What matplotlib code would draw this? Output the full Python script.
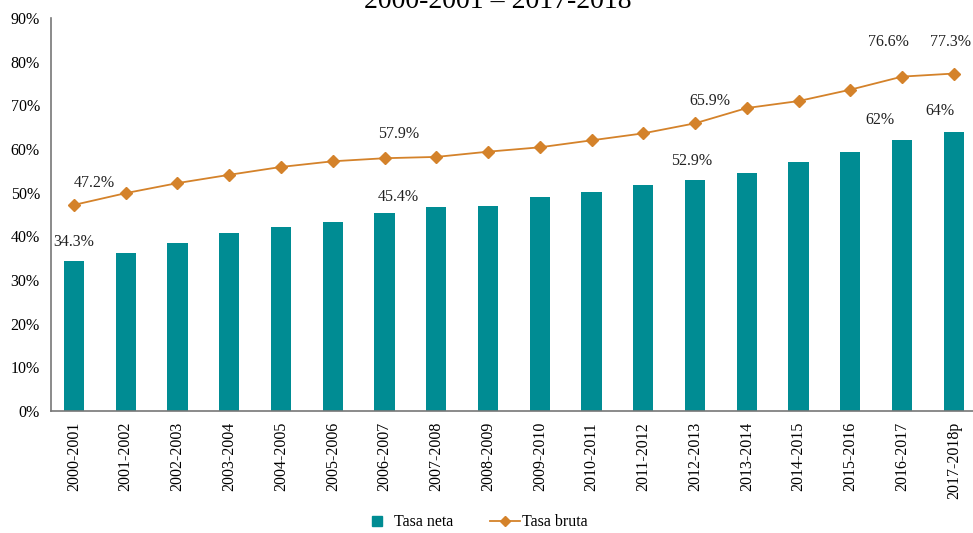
import matplotlib
matplotlib.use("Agg")
import matplotlib.pyplot as plt
from matplotlib.lines import Line2D
from matplotlib.ticker import PercentFormatter

plt.rcParams['font.family'] = ['Liberation Serif', 'DejaVu Serif']

# Data
periodos = ['2000-2001', '2001-2002', '2002-2003', '2003-2004', '2004-2005', '2005-2006',
            '2006-2007', '2007-2008', '2008-2009', '2009-2010', '2010-2011', '2011-2012',
            '2012-2013', '2013-2014', '2014-2015', '2015-2016', '2016-2017', '2017-2018p']
tasa_neta = [34.3, 36.2, 38.5, 40.8, 42.1, 43.3, 45.4, 46.7, 46.9, 49.0, 50.1, 51.8,
             52.9, 54.5, 57.0, 59.3, 62.0, 64.0]
tasa_bruta = [47.2, 49.9, 52.2, 54.1, 55.9, 57.2, 57.9, 58.2, 59.4, 60.4, 62.0, 63.6,
              65.9, 69.4, 71.0, 73.6, 76.6, 77.3]

# value labels shown on the chart
etiquetas_neta = {0: '34.3%', 6: '45.4%', 12: '52.9%', 16: '62%', 17: '64%'}
etiquetas_bruta = {0: '47.2%', 6: '57.9%', 12: '65.9%', 16: '76.6%', 17: '77.3%'}
# offsets of label centres in pixels
off_neta = {0: (0, 19), 6: (14, 16), 12: (-3, 19), 16: (-22, 20), 17: (-14, 21)}
off_bruta = {0: (20, 22), 6: (14, 24), 12: (15, 22), 16: (-14, 35), 17: (-3, 32)}

teal = '#008C93'
naranja = '#D4822A'

fig = plt.figure(figsize=(9.73, 5.33), dpi=100)
ax = fig.add_axes([0.0524, 0.229, 0.9476, 0.737])

x = list(range(len(periodos)))
ax.bar(x, tasa_neta, width=0.39, color=teal, zorder=2)
ax.plot(x, tasa_bruta, color=naranja, lw=1.3, marker='D', markersize=6.5, zorder=3)

for i, t in etiquetas_neta.items():
    dx, dy = off_neta[i]
    ax.annotate(t, (i, tasa_neta[i]), xytext=(dx * 0.72, dy * 0.72), textcoords='offset points',
                ha='center', va='center', fontsize=11.5, color='#222222')
for i, t in etiquetas_bruta.items():
    dx, dy = off_bruta[i]
    ax.annotate(t, (i, tasa_bruta[i]), xytext=(dx * 0.72, dy * 0.72), textcoords='offset points',
                ha='center', va='center', fontsize=11.5, color='#222222')

ax.set_ylim(0, 90)
ax.set_yticks(range(0, 91, 10))
ax.yaxis.set_major_formatter(PercentFormatter(decimals=0))
ax.set_xlim(-0.444, 17.37)
ax.set_xticks(x)
ax.set_xticklabels(periodos, rotation=90, fontsize=11.5)
ax.tick_params(axis='y', length=0, labelsize=11.5, pad=8)
ax.tick_params(axis='x', length=0, pad=8)
for s in ['top', 'right']:
    ax.spines[s].set_visible(False)
for s in ['left', 'bottom']:
    ax.spines[s].set_color('#777777')
    ax.spines[s].set_linewidth(1.2)

fig.text(0.512, 1 - 8 / 533, '2000-2001 – 2017-2018', ha='center', va='baseline', fontsize=20)

handles = [Line2D([], [], color=teal, marker='s', linestyle='none', markersize=7),
           Line2D([], [], color=naranja, marker='D', markersize=5, lw=1.3)]
fig.legend(handles, ['Tasa neta', 'Tasa bruta'], loc='center', bbox_to_anchor=(0.488, 0.02),
           ncol=2, frameon=False, fontsize=11.5, handlelength=1.9, handletextpad=0.1,
           columnspacing=2.3)

fig.savefig('out.png', dpi=100)
